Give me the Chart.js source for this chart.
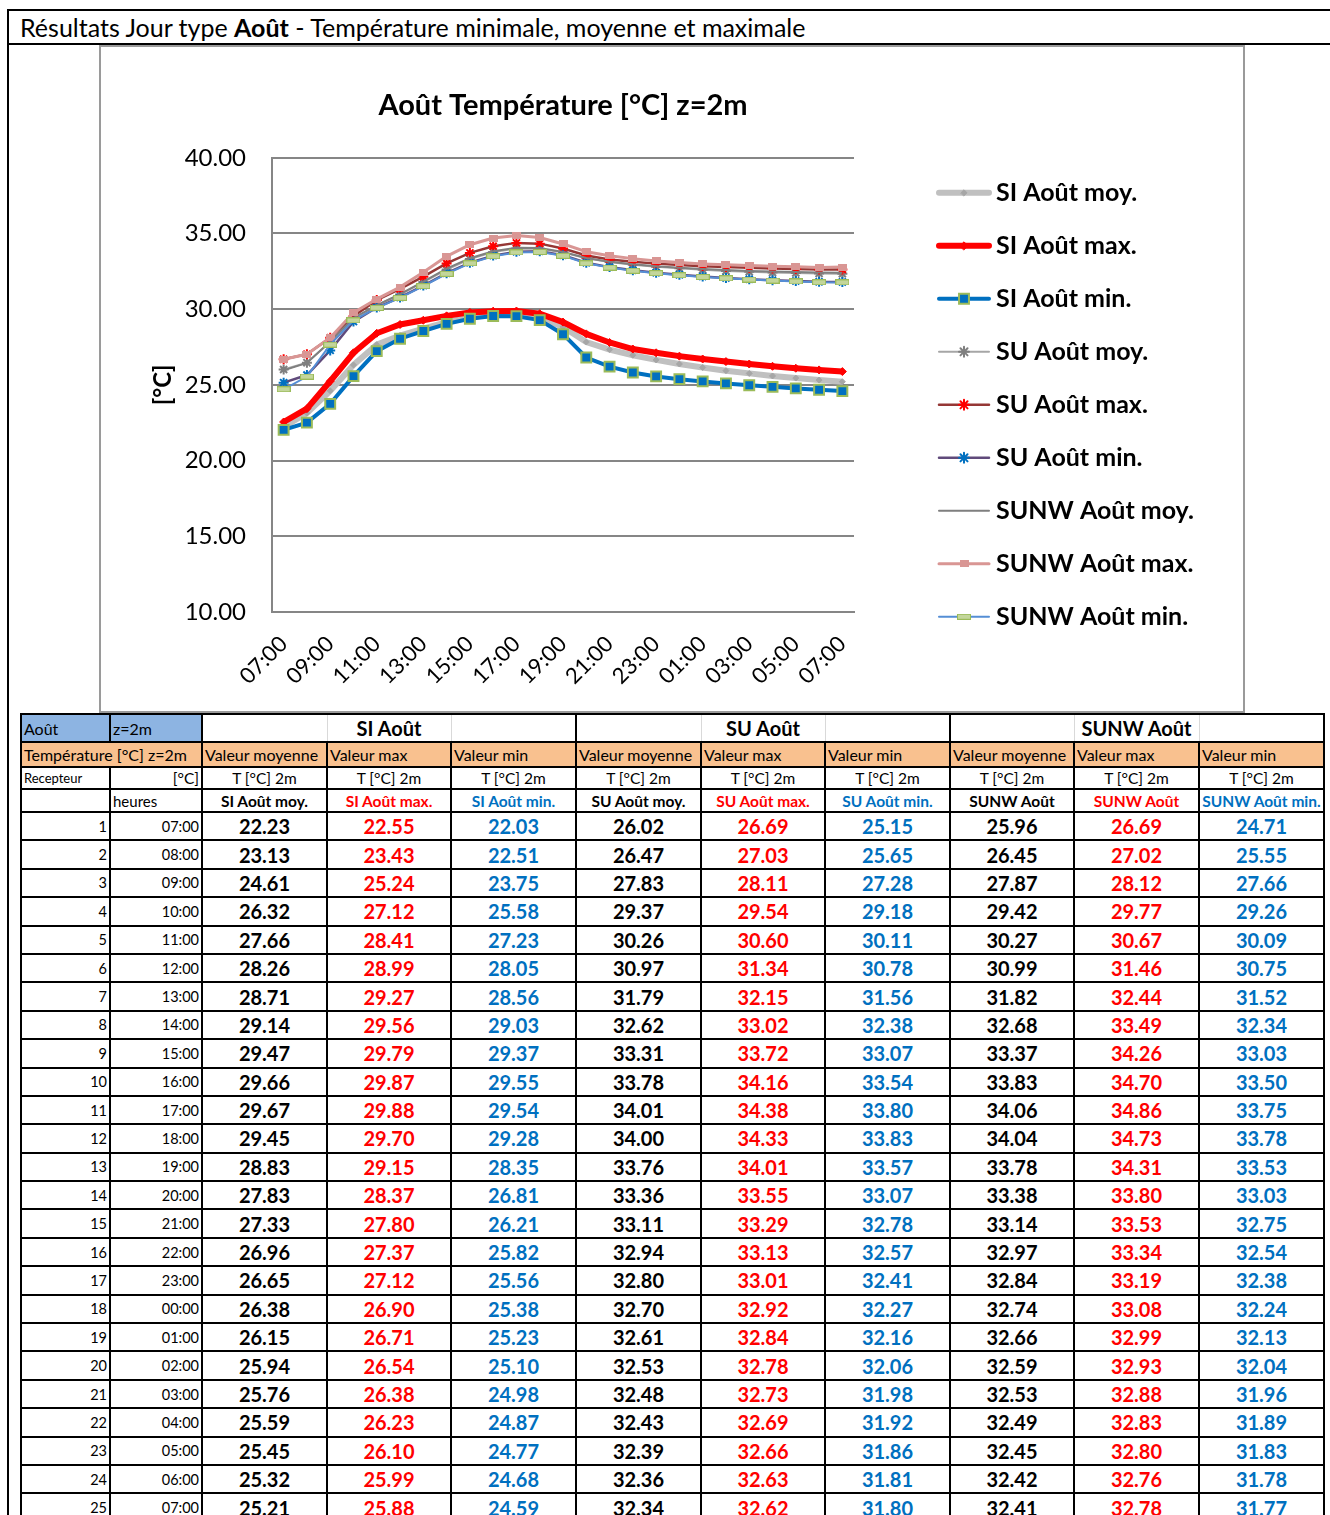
<!DOCTYPE html>
<html lang="fr">
<head>
<meta charset="utf-8">
<title>Août Température [°C] z=2m</title>
<script src="https://cdn.jsdelivr.net/npm/chart.js@4.4.1/dist/chart.umd.min.js"></script>
<style>
  html, body { margin: 0; padding: 0; width: 1330px; height: 1515px; overflow: hidden; background: #fff; font-family: Lato, sans-serif; color: #000; }
  .rule { position: absolute; background: #000; }
  #pageTitle { position: absolute; left: 20px; top: 12px; font-size: 25px; line-height: 30px; white-space: nowrap; }
  #chartBox { position: absolute; left: 99px; top: 45px; width: 1142px; height: 664px; border: 2px solid #9a9a9a; }
  #chart { display: block; }
  table { position: absolute; left: 20px; top: 713px; border-collapse: collapse; table-layout: fixed; }
  td { border: 2px solid #000; padding: 0 2px; white-space: nowrap; overflow: hidden; font-size: 15px; }
  tr.r0 td { height: 26px; font-size: 16px; }
  tr.r1 td { height: 23px; font-size: 16px; background: #f9c18f; }
  tr.r2 td { height: 20px; font-size: 15.5px; }
  tr.r3 td { height: 21px; font-size: 15.5px; font-weight: bold; text-align: center; }
  tr.data td { height: 26.4px; }
  .blue { background: #8db4e2; }
  .gl { border-right: 1px solid #d9d9d9; }
  tr.r0 td.gm { border-left: 1px solid #d9d9d9; border-right: 1px solid #d9d9d9; font-weight: bold; font-size: 20px; text-align: center; }
  .gr { border-left: 1px solid #d9d9d9; }
  .c { text-align: center; }
  .rt { text-align: right; }
  tr.r2 td.small { font-size: 13px; }
  .num { text-align: right; font-size: 14.5px; }
  .val { text-align: center; font-weight: bold; font-size: 20px; }
  .red { color: #ff0000; }
  .blu { color: #0070c0; }
</style>
</head>
<body>
<div class="rule" style="left:7px; top:9px; width:1323px; height:2px;"></div>
<div class="rule" style="left:7px; top:43px; width:1323px; height:2px;"></div>
<div class="rule" style="left:7px; top:9px; width:2px; height:1506px;"></div>
<div id="pageTitle">Résultats Jour type <b>Août</b> - Température minimale, moyenne et maximale</div>

<div id="chartBox"><canvas id="chart" width="1142" height="664"></canvas></div>

<table>
  <colgroup>
    <col style="width:89px"><col style="width:92px">
    <col style="width:125px"><col style="width:124px"><col style="width:125px">
    <col style="width:125px"><col style="width:124px"><col style="width:125px">
    <col style="width:124px"><col style="width:125px"><col style="width:125px">
  </colgroup>
  <tbody id="tbody">
    <tr class="r0">
      <td class="blue">Août</td><td class="blue">z=2m</td>
      <td class="gl"></td><td class="gm">SI Août</td><td class="gr"></td>
      <td class="gl"></td><td class="gm">SU Août</td><td class="gr"></td>
      <td class="gl"></td><td class="gm">SUNW Août</td><td class="gr"></td>
    </tr>
    <tr class="r1">
      <td colspan="2">Température [°C] z=2m</td>
      <td>Valeur moyenne</td><td>Valeur max</td><td>Valeur min</td>
      <td>Valeur moyenne</td><td>Valeur max</td><td>Valeur min</td>
      <td>Valeur moyenne</td><td>Valeur max</td><td>Valeur min</td>
    </tr>
    <tr class="r2">
      <td class="small">Recepteur</td><td class="rt">[°C]</td>
      <td class="c">T [°C] 2m</td><td class="c">T [°C] 2m</td><td class="c">T [°C] 2m</td>
      <td class="c">T [°C] 2m</td><td class="c">T [°C] 2m</td><td class="c">T [°C] 2m</td>
      <td class="c">T [°C] 2m</td><td class="c">T [°C] 2m</td><td class="c">T [°C] 2m</td>
    </tr>
    <tr class="r3">
      <td></td><td style="text-align:left; font-weight:normal; font-size:15px;">heures</td>
      <td>SI Août moy.</td><td class="red">SI Août max.</td><td class="blu">SI Août min.</td>
      <td>SU Août moy.</td><td class="red">SU Août max.</td><td class="blu">SU Août min.</td>
      <td>SUNW Août</td><td class="red">SUNW Août</td><td class="blu">SUNW Août min.</td>
    </tr>
  </tbody>
</table>

<script>
// hours of the typical August day, 07:00 to 07:00 next morning
const hours = ['07:00', '08:00', '09:00', '10:00', '11:00', '12:00', '13:00', '14:00', '15:00',
  '16:00', '17:00', '18:00', '19:00', '20:00', '21:00', '22:00', '23:00', '00:00', '01:00',
  '02:00', '03:00', '04:00', '05:00', '06:00', '07:00'];

// temperatures [°C] at z=2m
const siMoy = [22.23, 23.13, 24.61, 26.32, 27.66, 28.26, 28.71, 29.14, 29.47, 29.66, 29.67, 29.45, 28.83,
  27.83, 27.33, 26.96, 26.65, 26.38, 26.15, 25.94, 25.76, 25.59, 25.45, 25.32, 25.21];
const siMax = [22.55, 23.43, 25.24, 27.12, 28.41, 28.99, 29.27, 29.56, 29.79, 29.87, 29.88, 29.70, 29.15,
  28.37, 27.80, 27.37, 27.12, 26.90, 26.71, 26.54, 26.38, 26.23, 26.10, 25.99, 25.88];
const siMin = [22.03, 22.51, 23.75, 25.58, 27.23, 28.05, 28.56, 29.03, 29.37, 29.55, 29.54, 29.28, 28.35,
  26.81, 26.21, 25.82, 25.56, 25.38, 25.23, 25.10, 24.98, 24.87, 24.77, 24.68, 24.59];
const suMoy = [26.02, 26.47, 27.83, 29.37, 30.26, 30.97, 31.79, 32.62, 33.31, 33.78, 34.01, 34.00, 33.76,
  33.36, 33.11, 32.94, 32.80, 32.70, 32.61, 32.53, 32.48, 32.43, 32.39, 32.36, 32.34];
const suMax = [26.69, 27.03, 28.11, 29.54, 30.60, 31.34, 32.15, 33.02, 33.72, 34.16, 34.38, 34.33, 34.01,
  33.55, 33.29, 33.13, 33.01, 32.92, 32.84, 32.78, 32.73, 32.69, 32.66, 32.63, 32.62];
const suMin = [25.15, 25.65, 27.28, 29.18, 30.11, 30.78, 31.56, 32.38, 33.07, 33.54, 33.80, 33.83, 33.57,
  33.07, 32.78, 32.57, 32.41, 32.27, 32.16, 32.06, 31.98, 31.92, 31.86, 31.81, 31.80];
const sunwMoy = [25.96, 26.45, 27.87, 29.42, 30.27, 30.99, 31.82, 32.68, 33.37, 33.83, 34.06, 34.04, 33.78,
  33.38, 33.14, 32.97, 32.84, 32.74, 32.66, 32.59, 32.53, 32.49, 32.45, 32.42, 32.41];
const sunwMax = [26.69, 27.02, 28.12, 29.77, 30.67, 31.46, 32.44, 33.49, 34.26, 34.70, 34.86, 34.73, 34.31,
  33.80, 33.53, 33.34, 33.19, 33.08, 32.99, 32.93, 32.88, 32.83, 32.80, 32.76, 32.78];
const sunwMin = [24.71, 25.55, 27.66, 29.26, 30.09, 30.75, 31.52, 32.34, 33.03, 33.50, 33.75, 33.78, 33.53,
  33.03, 32.75, 32.54, 32.38, 32.24, 32.13, 32.04, 31.96, 31.89, 31.83, 31.78, 31.77];

const seriesLabels = ['SI Août moy.', 'SI Août max.', 'SI Août min.', 'SU Août moy.', 'SU Août max.',
  'SU Août min.', 'SUNW Août moy.', 'SUNW Août max.', 'SUNW Août min.'];

// small flat marker used by the SUNW series
function boxMarker(w, h, fill, edge) {
  const c = document.createElement('canvas');
  c.width = w; c.height = h;
  const g = c.getContext('2d');
  g.fillStyle = edge; g.fillRect(0, 0, w, h);
  g.fillStyle = fill; g.fillRect(1, 1, w - 2, h - 2);
  return c;
}

function series(label, data, line, width, style, radius, fill, edge, edgeWidth) {
  return {
    label: label, data: data,
    borderColor: line, borderWidth: width, tension: 0,
    pointStyle: style, pointRadius: radius, pointHoverRadius: radius,
    pointBackgroundColor: fill, pointBorderColor: edge, pointBorderWidth: edgeWidth
  };
}

const datasets = [
  series(seriesLabels[0], siMoy, '#c0c0c0', 6, 'rectRot', 3, '#a6a6a6', '#a6a6a6', 1),
  series(seriesLabels[1], siMax, '#ff0000', 6, 'rectRot', 4, '#ff0000', '#ff0000', 1),
  series(seriesLabels[2], siMin, '#0070c0', 4, 'rect', 7, '#0070c0', '#9bbb59', 2),
  series(seriesLabels[3], suMoy, '#a6a6a6', 2, 'star', 5, '#7f7f7f', '#7f7f7f', 2),
  series(seriesLabels[4], suMax, '#953735', 2.5, 'star', 5, '#ff0000', '#ff0000', 2),
  series(seriesLabels[5], suMin, '#604a7b', 2.5, 'star', 5, '#0070c0', '#0070c0', 2),
  series(seriesLabels[6], sunwMoy, '#7f7f7f', 2, 'circle', 0, '#7f7f7f', '#7f7f7f', 0),
  series(seriesLabels[7], sunwMax, '#d99694', 3, boxMarker(9, 7, '#d99694', '#d99694'), 5, '#d99694', '#d99694', 0),
  series(seriesLabels[8], sunwMin, '#558ed5', 2, boxMarker(14, 6, '#c3d69b', '#9bbb59'), 5, '#c3d69b', '#9bbb59', 0)
];
// later series sit on top
datasets.forEach((ds, i) => { ds.order = datasets.length - i; });

// legend drawn to the right of the plot: line sample, marker, bold label
const sideLegend = {
  id: 'sideLegend',
  afterDraw(chart) {
    const ctx = chart.ctx;
    const area = chart.chartArea;
    const x0 = area.right + 85;
    const len = 50;
    ctx.save();
    chart.data.datasets.forEach((ds, i) => {
      const y = area.top + 35 + i * 53;
      ctx.strokeStyle = ds.borderColor;
      ctx.lineWidth = ds.borderWidth;
      ctx.lineCap = 'round';
      ctx.beginPath();
      ctx.moveTo(x0, y);
      ctx.lineTo(x0 + len, y);
      ctx.stroke();
      if (ds.pointRadius > 0) {
        ctx.fillStyle = ds.pointBackgroundColor;
        ctx.strokeStyle = ds.pointBorderColor;
        ctx.lineWidth = ds.pointBorderWidth;
        Chart.helpers.drawPoint(ctx, {
          pointStyle: ds.pointStyle, rotation: 0,
          radius: ds.pointRadius, borderWidth: ds.pointBorderWidth
        }, x0 + len / 2, y);
      }
      ctx.fillStyle = '#000';
      ctx.font = 'bold 25px Lato';
      ctx.textAlign = 'left';
      ctx.textBaseline = 'middle';
      ctx.fillText(ds.label, x0 + len + 7, y);
    });
    ctx.restore();
  }
};

const gridGray = '#868686';

new Chart(document.getElementById('chart'), {
  type: 'line',
  data: { labels: hours, datasets: datasets },
  plugins: [sideLegend],
  options: {
    responsive: false,
    animation: false,
    devicePixelRatio: 1,
    layout: { padding: { left: 40, right: 389, top: 0, bottom: 0 } },
    plugins: {
      legend: { display: false },
      tooltip: { enabled: false },
      title: {
        display: true,
        fullSize: false,
        text: 'Août Température [°C] z=2m',
        color: '#000',
        font: { family: 'Lato', size: 29, weight: 'bold' },
        padding: { top: 41, bottom: 35 }
      }
    },
    scales: {
      x: {
        offset: true,
        grid: { display: false },
        border: { display: true, color: gridGray, width: 2 },
        ticks: {
          autoSkip: false,
          minRotation: 45,
          maxRotation: 45,
          padding: 11,
          color: '#000',
          font: { family: 'Lato', size: 22 },
          callback: function (value, index) { return index % 2 === 0 ? this.getLabelForValue(value) : ''; }
        },
        afterFit: (scale) => { scale.height = 99; }
      },
      y: {
        min: 10,
        max: 40,
        grid: { color: gridGray, lineWidth: 2, drawTicks: false },
        border: { display: true, color: gridGray, width: 2 },
        ticks: {
          stepSize: 5,
          padding: 26,
          color: '#000',
          font: { family: 'Lato', size: 24 },
          callback: (v) => v.toFixed(2)
        },
        title: {
          display: true,
          text: '[°C]',
          color: '#000',
          font: { family: 'Lato', size: 24, weight: 'bold' },
          padding: { top: 8, bottom: 0 }
        },
        afterFit: (scale) => { scale.width = 131; }
      }
    }
  }
});

// value table below the chart, one row per hour
const columns = [
  { data: siMoy, cls: '' }, { data: siMax, cls: 'red' }, { data: siMin, cls: 'blu' },
  { data: suMoy, cls: '' }, { data: suMax, cls: 'red' }, { data: suMin, cls: 'blu' },
  { data: sunwMoy, cls: '' }, { data: sunwMax, cls: 'red' }, { data: sunwMin, cls: 'blu' }
];
const tbody = document.getElementById('tbody');
hours.forEach((h, i) => {
  const tr = document.createElement('tr');
  tr.className = 'data';
  let html = '<td class="num">' + (i + 1) + '</td><td class="num">' + h + '</td>';
  columns.forEach((col) => {
    html += '<td class="val ' + col.cls + '">' + col.data[i].toFixed(2) + '</td>';
  });
  tr.innerHTML = html;
  tbody.appendChild(tr);
});
</script>
</body>
</html>
